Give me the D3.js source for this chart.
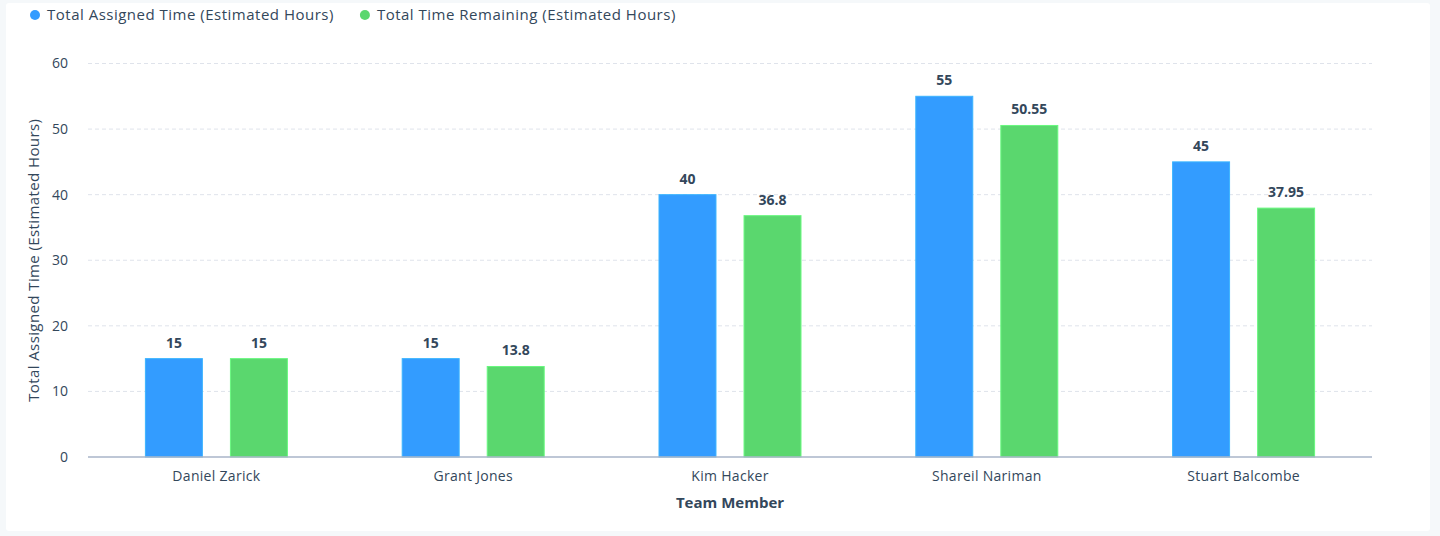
<!DOCTYPE html>
<html>
<head>
<meta charset="utf-8">
<script src="https://cdn.jsdelivr.net/npm/d3@7"></script>
<style>
  html, body { margin: 0; padding: 0; background: #f5f8fa; }
  svg { display: block; }
  text { font-family: "Open Sans", "Noto Sans", sans-serif; fill: #33475b; }
</style>
</head>
<body>
<div id="chart"></div>
<script>
// ////////////////////////////////////////////////////////////////////////////
// DATA
// ////////////////////////////////////////////////////////////////////////////
const members = ['Daniel Zarick', 'Grant Jones', 'Kim Hacker', 'Shareil Nariman', 'Stuart Balcombe'];
const seriesNames = ['Total Assigned Time (Estimated Hours)', 'Total Time Remaining (Estimated Hours)'];
const assigned = [15, 15, 40, 55, 45];
const remaining = [15, 13.8, 36.8, 50.55, 37.95];
const yTicks = [0, 10, 20, 30, 40, 50, 60];
const colors = ['#339cff', '#5ad76e'];

// ////////////////////////////////////////////////////////////////////////////
// SET UP
// ////////////////////////////////////////////////////////////////////////////
const width = 1440;
const height = 536;
const margin = { top: 63.5, right: 68, bottom: 79, left: 88 };
const font = '"Open Sans", "Noto Sans", sans-serif';

const svg = d3.select('#chart').append('svg')
  .attr('width', width)
  .attr('height', height);

// white card
svg.append('rect')
  .attr('x', 6).attr('y', 3)
  .attr('width', 1424).attr('height', 528)
  .attr('rx', 3)
  .attr('fill', '#fff');

const x0 = d3.scaleBand()
  .domain(members)
  .range([margin.left, width - margin.right]);

// the two bars of a group sit 28px apart, 57px wide each
const x1 = d3.scaleBand()
  .domain(seriesNames)
  .range([-71, 71])
  .paddingInner(0.33);

const y = d3.scaleLinear()
  .domain([0, 60])
  .range([height - margin.bottom, margin.top]);

// grid
svg.append('g')
  .selectAll('line')
  .data(yTicks.filter(d => d > 0))
  .join('line')
    .attr('x1', margin.left)
    .attr('x2', width - margin.right)
    .attr('y1', d => y(d))
    .attr('y2', d => y(d))
    .attr('stroke', '#dfe3eb')
    .attr('stroke-dasharray', '4,3');

// y axis labels
const yAxis = svg.append('g')
  .attr('transform', `translate(${margin.left},0)`)
  .call(d3.axisLeft(y).tickValues(yTicks).tickSize(0).tickPadding(20));
yAxis.select('.domain').remove();
yAxis.selectAll('text')
  .style('font-family', font)
  .style('font-size', '14px')
  .attr('fill', '#33475b');

svg.append('text')
  .attr('transform', `translate(39,${y(30)}) rotate(-90)`)
  .attr('text-anchor', 'middle')
  .style('font-size', '15px')
  .style('letter-spacing', '0.4px')
  .text(seriesNames[0]);

// bars
const rows = members.map((m, i) => ({ member: m, values: [assigned[i], remaining[i]] }));

const group = svg.append('g')
  .selectAll('g')
  .data(rows)
  .join('g')
    .attr('transform', d => `translate(${x0(d.member) + x0.bandwidth() / 2},0)`);

const cell = group.selectAll('g')
  .data(d => d.values.map((v, j) => ({ name: seriesNames[j], value: v, j })))
  .join('g');

cell.append('rect')
  .attr('x', d => x1(d.name))
  .attr('width', x1.bandwidth())
  .attr('y', d => y(d.value))
  .attr('height', d => y(0) - y(d.value))
  .attr('fill', d => colors[d.j])
  .attr('stroke', d => d3.color(colors[d.j]).brighter(0.4))
  .attr('stroke-width', 1);

cell.append('text')
  .attr('x', d => x1(d.name) + x1.bandwidth() / 2)
  .attr('y', d => y(d.value) - 11)
  .attr('text-anchor', 'middle')
  .style('font-size', '14px')
  .style('font-weight', 'bold')
  .text(d => d.value);

// x axis
svg.append('line')
  .attr('x1', margin.left)
  .attr('x2', width - margin.right)
  .attr('y1', y(0))
  .attr('y2', y(0))
  .attr('stroke', '#a9b5c8')
  .attr('stroke-width', 1.5);

const xAxis = svg.append('g')
  .attr('transform', `translate(0,${y(0)})`)
  .call(d3.axisBottom(x0).tickSize(0).tickPadding(14));
xAxis.select('.domain').remove();
xAxis.selectAll('text')
  .style('font-family', font)
  .style('font-size', '14px')
  .style('letter-spacing', '0.3px')
  .attr('fill', '#33475b');

svg.append('text')
  .attr('x', (margin.left + width - margin.right) / 2)
  .attr('y', 508)
  .attr('text-anchor', 'middle')
  .style('font-size', '15px')
  .style('font-weight', 'bold')
  .text('Team Member');

// legend
const legend = svg.append('g').attr('transform', 'translate(35,15)');
let lx = 0;
seriesNames.forEach((name, i) => {
  const item = legend.append('g').attr('transform', `translate(${lx},0)`);
  item.append('circle').attr('r', 5).attr('fill', colors[i]);
  const t = item.append('text')
    .attr('x', 12)
    .attr('dy', '0.35em')
    .style('font-size', '15px')
    .style('letter-spacing', '0.5px')
    .text(name);
  lx += 12 + t.node().getComputedTextLength() + 31;
});
</script>
</body>
</html>
